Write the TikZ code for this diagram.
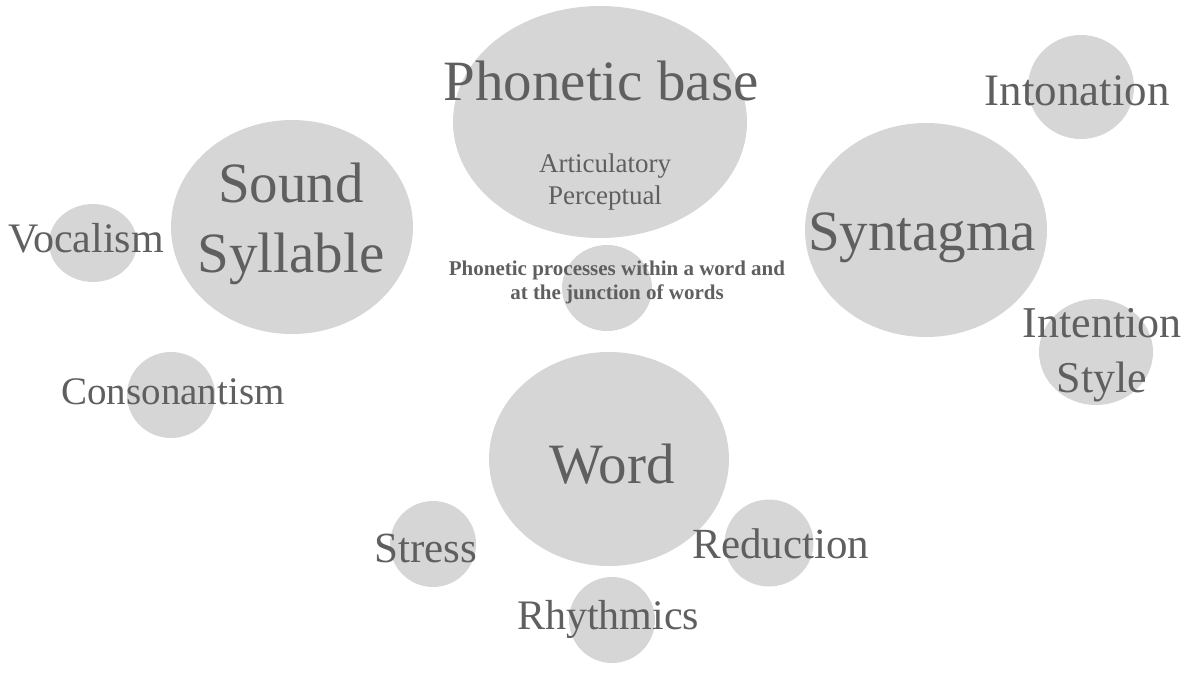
\documentclass[tikz,border=0pt]{standalone}
\usepackage{fontspec}
\setmainfont{Liberation Serif}
\usetikzlibrary{shapes.geometric}
\definecolor{blobgray}{HTML}{D6D6D6}
\definecolor{inkgray}{HTML}{5F5F5F}
\tikzset{
	blob/.style={ellipse, fill=blobgray, inner sep=0pt},
	lbl/.style={text=inkgray, anchor=base, align=center, inner sep=0pt},
	big/.style={font=\fontsize{57}{70}\selectfont},
	mid/.style={font=\fontsize{43}{55}\selectfont},
	small/.style={font=\fontsize{27}{32}\selectfont},
	note/.style={font=\fontsize{21}{24}\selectfont\bfseries}
}
\begin{document}
\begin{tikzpicture}[x=1pt,y=-1pt]

		\useasboundingbox (0,0) rectangle (1196,677);

		\node[blob, minimum width=294pt, minimum height=232pt] (base) at (600,122) {};
		\node[blob, minimum width=90pt, minimum height=86pt] (proc) at (607,288) {};
		\node[blob, minimum width=242pt, minimum height=214pt] (sound) at (292,227) {};
		\node[blob, minimum width=88pt, minimum height=78pt] (vocal) at (93,243) {};
		\node[blob, minimum width=88pt, minimum height=86pt] (conso) at (171,395) {};
		\node[blob, minimum width=106pt, minimum height=104pt] (inton) at (1081,87) {};
		\node[blob, minimum width=242pt, minimum height=214pt] (synt) at (926,230) {};
		\node[blob, minimum width=114pt, minimum height=106pt] (inten) at (1096,352) {};
		\node[blob, minimum width=240pt, minimum height=214pt] (word) at (609,459) {};
		\node[blob, minimum width=86pt, minimum height=86pt] (stress) at (433,544) {};
		\node[blob, minimum width=89pt, minimum height=87pt] (reduc) at (769,543) {};
		\node[blob, minimum width=86pt, minimum height=86pt] (rhythm) at (612,620) {};

		% multi-line labels sit on the baseline of their last line
		\node[lbl, big] (basetxt) at (601,100) {Phonetic base};
		\node[lbl, small] (kindtxt) at (605,204) {Articulatory\\Perceptual};
		\node[lbl, note] (proctxt) at (617,299) {Phonetic processes within a word and\\at the junction of words};
		\node[lbl, big] (soundtxt) at (291,272) {Sound\\Syllable};
		\node[lbl, mid, font=\fontsize{42}{50}\selectfont] (vocaltxt) at (86,252) {Vocalism};
		\node[lbl, mid, font=\fontsize{39}{50}\selectfont] (consotxt) at (173,404) {Consonantism};
		\node[lbl, mid, font=\fontsize{45}{55}\selectfont] (intontxt) at (1077,105) {Intonation};
		\node[lbl, big] (synttxt) at (922,250) {Syntagma};
		\node[lbl, mid, font=\fontsize{44}{55}\selectfont] (intentxt) at (1102,392) {Intention\\Style};
		\node[lbl, big] (wordtxt) at (612,483) {Word};
		\node[lbl, mid] (stresstxt) at (426,562) {Stress};
		\node[lbl, mid] (reductxt) at (781,558) {Reduction};
		\node[lbl, mid, font=\fontsize{42}{50}\selectfont] (rhythmtxt) at (608,629) {Rhythmics};

	\end{tikzpicture}
\end{document}
